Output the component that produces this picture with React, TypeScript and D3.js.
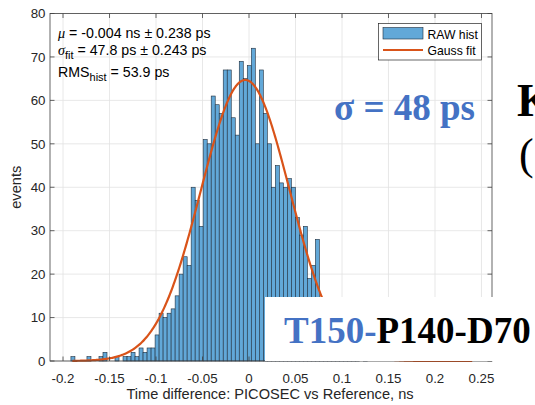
import React from 'react';
import * as d3 from 'd3';

const W = 535;
const H = 405;

// histogram: bins of equal width starting at binStart
const binStart = -0.1915;
const binWidth = 0.00431;
const counts = [
  1, 0, 0, 0, 1, 0, 0, 1, 2, 0,
  0, 1, 0, 1, 1, 2, 1, 3, 2, 3,
  3, 6, 11, 10, 11, 12, 15, 20, 24, 22,
  40, 37, 31, 51, 50, 61, 59, 57, 67, 67,
  56, 52, 69, 65, 68, 72, 50, 67, 57, 50,
  40, 45, 41, 40, 42, 40, 33, 29, 31, 19,
  22, 28, 12, 9, 8, 6, 5, 3, 2, 2,
  1, 1, 0, 1, 0, 0, 0, 0, 0, 0,
  0, 0, 0, 0, 0, 0, 0, 0, 0, 0,
  0, 0, 0, 0, 0, 0, 0, 0, 0, 0,
];

const xTicks = [-0.2, -0.15, -0.1, -0.05, 0, 0.05, 0.1, 0.15, 0.2, 0.25];
const xTickLabels = ['-0.2', '-0.15', '-0.1', '-0.05', '0', '0.05', '0.1', '0.15', '0.2', '0.25'];
const yTicks = [0, 10, 20, 30, 40, 50, 60, 70, 80];

// Gauss fit parameters (ns, events)
const fitMu = -0.004;
const fitSigma = 0.0478;
const fitAmp = 64.7;
const fitFrom = -0.19;
const fitTo = 0.24;

const legendLabels = ['RAW hist', 'Gauss fit'];

const barFill = '#62A8D8';
const barStroke = '#1f2d3c';
const fitColor = '#D95319';
const slideBlue = '#4472C4';

const FONT = "'Liberation Sans', Arial, Helvetica, sans-serif";
const SERIF = "'Liberation Serif', 'Times New Roman', serif";

export default function App() {
  const left = 50, right = 492, top = 13.5, bottom = 361;
  const x = d3.scaleLinear().domain([-0.214, 0.2613]).range([left, right]);
  const y = d3.scaleLinear().domain([0, 80]).range([bottom, top]);

  const bw = x(binWidth) - x(0);
  const fitXs = d3.range(fitFrom, fitTo + 1e-9, 0.001);
  const fitLine = d3
    .line<number>()
    .x((v) => x(v))
    .y((v) => y(fitAmp * Math.exp(-((v - fitMu) ** 2) / (2 * fitSigma * fitSigma))))
    .curve(d3.curveLinear);

  const tickLen = 4.5;
  const axisColor = '#404040';
  const gridColor = '#e2e2e2';

  return (
    <svg width={W} height={H} style={{ position: 'absolute', left: 0, top: 0, background: '#fff' }}>
      <rect x={0} y={0} width={W} height={H} fill="#fff" />
      {/* grid */}
      {xTicks.map((t) => (
        <line key={'gx' + t} x1={x(t)} x2={x(t)} y1={top} y2={bottom} stroke={gridColor} strokeWidth={0.8} />
      ))}
      {yTicks.map((t) => (
        <line key={'gy' + t} x1={left} x2={right} y1={y(t)} y2={y(t)} stroke={gridColor} strokeWidth={0.8} />
      ))}
      {/* bars */}
      {counts.map((c, i) => {
        const x0 = x(binStart + i * binWidth);
        return (
          <rect
            key={'b' + i}
            x={x0}
            y={y(c)}
            width={bw}
            height={y(0) - y(c)}
            fill={barFill}
            stroke={barStroke}
            strokeWidth={0.6}
          />
        );
      })}
      {/* fit */}
      <path d={fitLine(fitXs) || ''} fill="none" stroke={fitColor} strokeWidth={2.2} />
      {/* axes box */}
      <rect x={left} y={top} width={right - left} height={bottom - top} fill="none" stroke={axisColor} strokeWidth={0.8} />
      {xTicks.map((t) => (
        <g key={'tx' + t}>
          <line x1={x(t)} x2={x(t)} y1={bottom} y2={bottom - tickLen} stroke={axisColor} strokeWidth={0.8} />
          <line x1={x(t)} x2={x(t)} y1={top} y2={top + tickLen} stroke={axisColor} strokeWidth={0.8} />
        </g>
      ))}
      {yTicks.map((t) => (
        <g key={'ty' + t}>
          <line x1={left} x2={left + tickLen} y1={y(t)} y2={y(t)} stroke={axisColor} strokeWidth={0.8} />
          <line x1={right} x2={right - tickLen} y1={y(t)} y2={y(t)} stroke={axisColor} strokeWidth={0.8} />
        </g>
      ))}
      {xTicks.map((t, i) => (
        <text key={'lx' + t} x={x(t)} y={382.5} textAnchor="middle" fontFamily={FONT} fontSize={13.3} fill="#262626">
          {xTickLabels[i]}
        </text>
      ))}
      {yTicks.map((t) => (
        <text key={'ly' + t} x={45.5} y={y(t) + 4.7} textAnchor="end" fontFamily={FONT} fontSize={13.3} fill="#262626">
          {t}
        </text>
      ))}
      <text x={270} y={398.5} textAnchor="middle" fontFamily={FONT} fontSize={14.6} fill="#262626">
        Time difference: PICOSEC vs Reference, ns
      </text>
      <text
        transform={`translate(20.5, ${(top + bottom) / 2}) rotate(-90)`}
        textAnchor="middle"
        fontFamily={FONT}
        fontSize={14.6}
        fill="#262626"
      >
        events
      </text>
      {/* annotations */}
      <g fontFamily={FONT} fontSize={14.2} fill="#000">
        <text x={58} y={38}>
          <tspan fontStyle="italic" fontFamily={SERIF}>μ</tspan>
          <tspan> = -0.004 ns ± 0.238 ps</tspan>
        </text>
        <text x={58} y={55}>
          <tspan fontStyle="italic" fontFamily={SERIF}>σ</tspan>
          <tspan fontSize={11} dy={4}>fit</tspan>
          <tspan dy={-4}> = 47.8 ps ± 0.243 ps</tspan>
        </text>
        <text x={58} y={77}>
          <tspan>RMS</tspan>
          <tspan fontSize={11} dy={4}>hist</tspan>
          <tspan dy={-4}> = 53.9 ps</tspan>
        </text>
      </g>
      {/* legend */}
      <rect x={378.5} y={23.5} width={103} height={36.5} fill="#fff" stroke="#262626" strokeWidth={0.7} />
      <rect x={383} y={27.5} width={40} height={11.5} fill={barFill} stroke={barStroke} strokeWidth={0.6} />
      <line x1={383} x2={423} y1={50} y2={50} stroke={fitColor} strokeWidth={2.2} />
      <text x={427.5} y={38.5} fontFamily={FONT} fontSize={12.2} fill="#000">{legendLabels[0]}</text>
      <text x={427.5} y={54.5} fontFamily={FONT} fontSize={12.2} fill="#000">{legendLabels[1]}</text>
      {/* slide overlays */}
      <text x={334} y={120} fontFamily={SERIF} fontWeight="bold" fontSize={37} fill={slideBlue}>
        σ = 48 ps
      </text>
      <text x={517} y={116} fontFamily={SERIF} fontWeight="bold" fontSize={46} fill="#000">K</text>
      <text x={519} y={169} fontFamily={SERIF} fontSize={44} fill="#000">(</text>
      <rect x={265} y={297} width={W - 265} height={64} fill="#fff" />
      <text x={284} y={343} fontFamily={SERIF} fontWeight="bold" fontSize={37}>
        <tspan fill={slideBlue}>T150-</tspan>
        <tspan fill="#000">P140-D70</tspan>
      </text>
    </svg>
  );
}
